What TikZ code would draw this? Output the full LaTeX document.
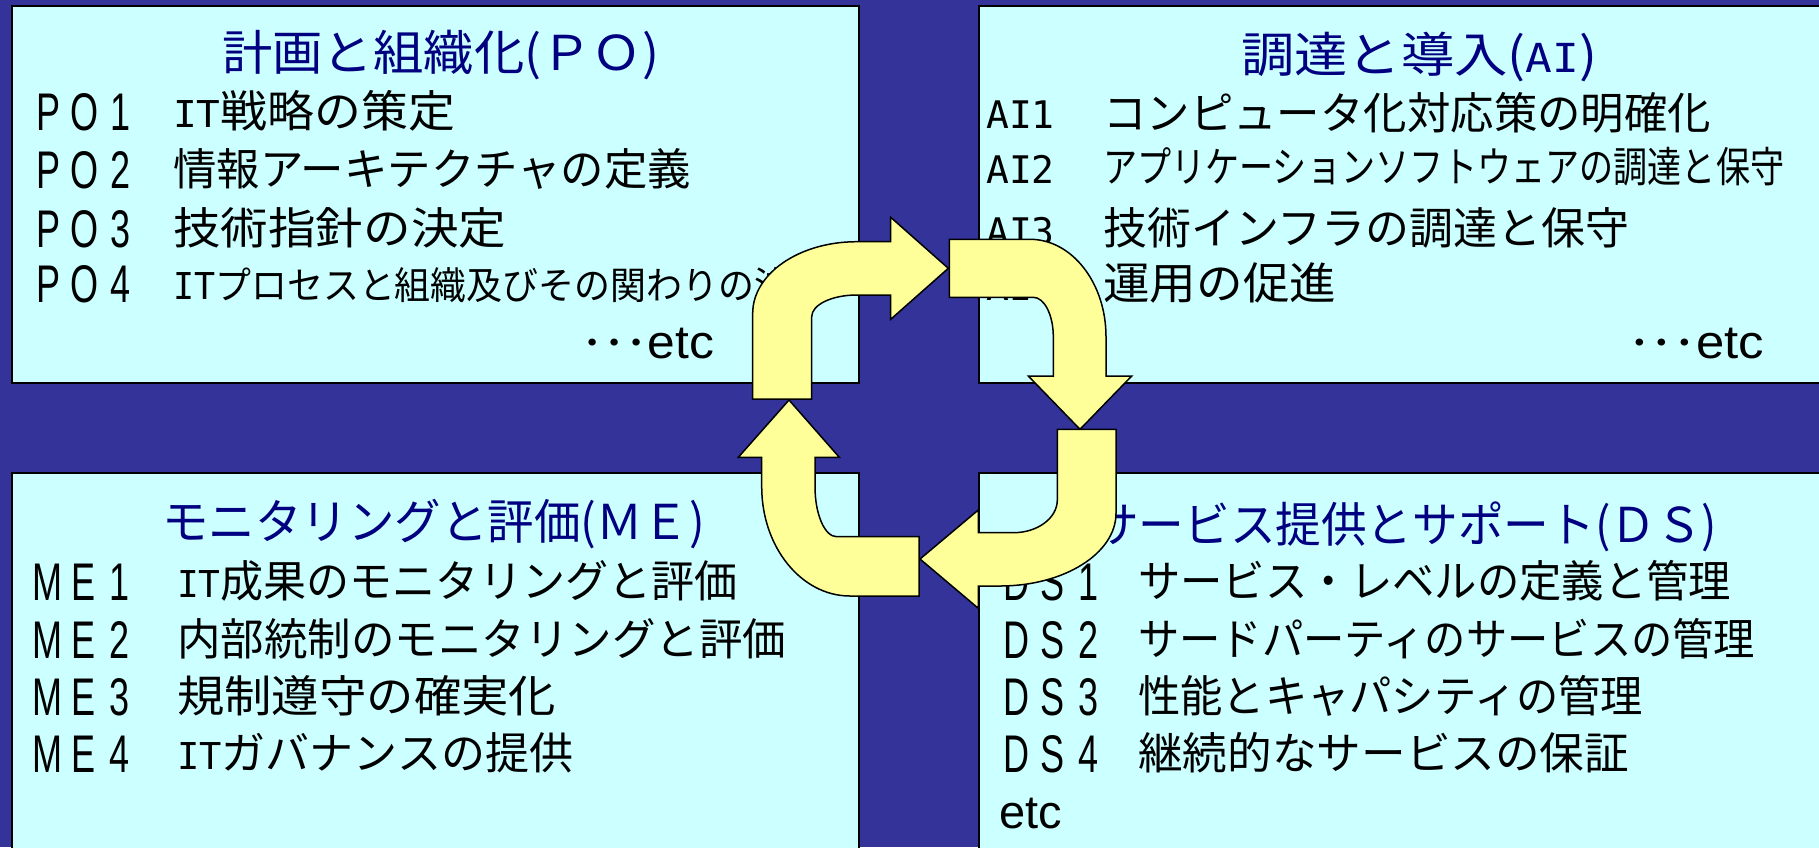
\documentclass[tikz,border=0pt]{standalone}
\usepackage{fontspec}
\usepackage{graphicx}
\setmainfont{Liberation Sans}
\newfontfamily\jp{Noto Sans CJK JP}
\newfontfamily\monof{DejaVu Sans Mono}
\newfontfamily\arialf{Liberation Sans}
\definecolor{bgblue}{RGB}{51,51,153}
\definecolor{boxcyan}{RGB}{204,255,255}
\definecolor{arrowyel}{RGB}{255,255,153}
\definecolor{navytxt}{RGB}{0,0,128}
\newcommand\fs[1]{\fontsize{#1}{#1}\selectfont}
\newcommand\ITx{{\monof\fs{37}IT}}
\newcommand\lblx[3]{{\arialf\fs{53}\makebox[36pt]{\scalebox{0.68}[1]{#1}}\makebox[36pt]{\scalebox{0.68}[1]{#2}}\makebox[36pt]{\scalebox{0.68}[1]{#3}}}}
\newcommand\fitw[2]{\resizebox{#1pt}{\height}{#2}}
\newlength\tmpw
\newcommand\fitpart[3]{\settowidth{\tmpw}{#2}\pgfmathsetmacro\pofac{#1/\tmpw}\scalebox{\pofac}[1]{#2#3}}
\tikzset{
 panel/.style={draw=black, line width=2pt, fill=boxcyan},
 bentarrow/.style={draw=black, line width=1.5pt, fill=arrowyel, line join=miter},
 ttl/.style={anchor=base west, inner sep=0pt, text=navytxt, font=\jp\fs{48}},
 itm/.style={anchor=base west, inner sep=0pt, text=black, font=\jp\fs{44}},
 lbl/.style={anchor=base west, inner sep=0pt, text=black},
}
\begin{document}
\begin{tikzpicture}[x=1pt,y=-1pt]
\useasboundingbox (0,0) rectangle (1819,847);
\fill[bgblue] (0,0) rectangle (1819,847);
\begin{scope}
\clip (0,0) rectangle (1819,847);
% panels
\path[panel] (12,6) rectangle (859,383);
\path[panel] (979,6) rectangle (1870,383);
\path[panel] (12,473) rectangle (859,900);
\path[panel] (979,473) rectangle (1870,900);

% titles
\node[ttl] (potitle) at (222,70) {\fitw{437}{計画と組織化(ＰＯ)}};
\node[ttl] (aititle) at (1241,72) {\fitw{356}{調達と導入({\monof\fs{40}AI})}};
\node[ttl] (metitle) at (162,539) {\fitw{543}{モニタリングと評価(ＭＥ)}};
\node[ttl] (dstitle) at (1093,542) {\fitw{624}{サービス提供とサポート(ＤＳ)}};

% PO
\node[lbl] (po1l) at (30,130) {\lblx{P}{O}{1}};
\node[lbl] (po2l) at (30,188) {\lblx{P}{O}{2}};
\node[lbl] (po3l) at (30,247) {\lblx{P}{O}{3}};
\node[lbl] (po4l) at (30,302) {\lblx{P}{O}{4}};
\node[itm] (po1t) at (173,127) {\fitw{282}{\ITx 戦略の策定}};
\node[itm] (po2t) at (173,185) {\fitw{518}{情報アーキテクチャの定義}};
\node[itm] (po3t) at (173,244) {\fitw{333}{技術指針の決定}};
\node[itm] (po4t) at (173,299) {\fs{38}\fitpart{581}{\ITx プロセスと組織及びその関わりの}{決定}};
\node[lbl] (poetc) at (581,358) {\fitw{133}{{\jp\fs{42}･･･}{\arialf\fs{47}etc}}};

% AI
\node[lbl] (ai1l) at (986,128) {\monof\fs{38}AI1};
\node[lbl] (ai2l) at (986,183) {\monof\fs{38}AI2};
\node[lbl] (ai3l) at (986,245) {\monof\fs{38}AI3};
\node[lbl] (ai4l) at (986,300) {\monof\fs{38}AI4};
\node[itm] (ai1t) at (1103,129) {\fitw{608}{コンピュータ化対応策の明確化}};
\node[itm] (ai2t) at (1103,182) {\fitw{681}{\fs{42}アプリケーションソフトウェアの調達と保守}};
\node[itm] (ai3t) at (1103,244) {\fitw{526}{技術インフラの調達と保守}};
\node[itm] (ai4t) at (1103,299) {\fitw{233}{運用の促進}};
\node[lbl] (aietc) at (1628,358) {\fitw{136}{{\jp\fs{42}･･･}{\arialf\fs{47}etc}}};

% ME
\node[lbl] (me1l) at (29,600) {\lblx{M}{E}{1}};
\node[lbl] (me2l) at (29,658) {\lblx{M}{E}{2}};
\node[lbl] (me3l) at (29,715) {\lblx{M}{E}{3}};
\node[lbl] (me4l) at (29,772) {\lblx{M}{E}{4}};
\node[itm] (me1t) at (177,597) {\fitw{560}{\ITx 成果のモニタリングと評価}};
\node[itm] (me2t) at (177,655) {\fitw{609}{内部統制のモニタリングと評価}};
\node[itm] (me3t) at (177,712) {\fitw{379}{規制遵守の確実化}};
\node[itm] (me4t) at (177,769) {\fitw{396}{\ITx ガバナンスの提供}};

% DS
\node[lbl] (ds1l) at (998,600) {\lblx{D}{S}{1}};
\node[lbl] (ds2l) at (998,658) {\lblx{D}{S}{2}};
\node[lbl] (ds3l) at (998,715) {\lblx{D}{S}{3}};
\node[lbl] (ds4l) at (998,772) {\lblx{D}{S}{4}};
\node[itm] (ds1t) at (1138,597) {\fitw{593}{サービス・レベルの定義と管理}};
\node[itm] (ds2t) at (1138,655) {\fitw{617}{サードパーティのサービスの管理}};
\node[itm] (ds3t) at (1138,712) {\fitw{505}{性能とキャパシティの管理}};
\node[itm] (ds4t) at (1138,769) {\fitw{491}{継続的なサービスの保証}};
\node[lbl] (dsetc) at (999,828) {\arialf\fs{47}etc};

% bent arrows
\path[bentarrow] (752.7,399) -- (752.7,313.3) .. controls (752.7,273.7) and (799.3,241.7) .. (856.7,241.7) -- (890.7,241.7) -- (890.7,217.3) -- (948.3,268.3) -- (890.7,319.3) -- (890.7,295) -- (856.7,295) .. controls (831.9,295) and (811.7,304.7) .. (811.7,316.7) -- (811.7,399) -- cycle;
\path[bentarrow] (949.3,239.3) -- (1030,239.3) .. controls (1072,239.3) and (1106,283) .. (1106,336.7) -- (1106,376) -- (1131.7,376) -- (1080,429.3) -- (1028.3,376) -- (1053.3,376) -- (1053.3,336.7) .. controls (1053.3,315) and (1044.3,297.3) .. (1033.3,297.3) -- (949.3,297.3) -- cycle;
\path[bentarrow] (1116,429.3) -- (1116,513.3) .. controls (1116,553.4) and (1064,586) .. (1000,586) -- (978.3,586) -- (978.3,608.3) -- (920,559) -- (978.3,510) -- (978.3,532.7) -- (1013.3,532.7) .. controls (1037.6,532.7) and (1057.3,518) .. (1057.3,500) -- (1057.3,429.3) -- cycle;
\path[bentarrow] (919,596) -- (850,596) .. controls (801.3,596) and (761.7,547) .. (761.7,486.7) -- (761.7,457.3) -- (738.3,457.3) -- (789,400) -- (839.3,457.3) -- (815,457.3) -- (815,486.7) .. controls (815,514.3) and (824.7,536.7) .. (836.7,536.7) -- (919,536.7) -- cycle;
\end{scope}
\end{tikzpicture}
\end{document}
